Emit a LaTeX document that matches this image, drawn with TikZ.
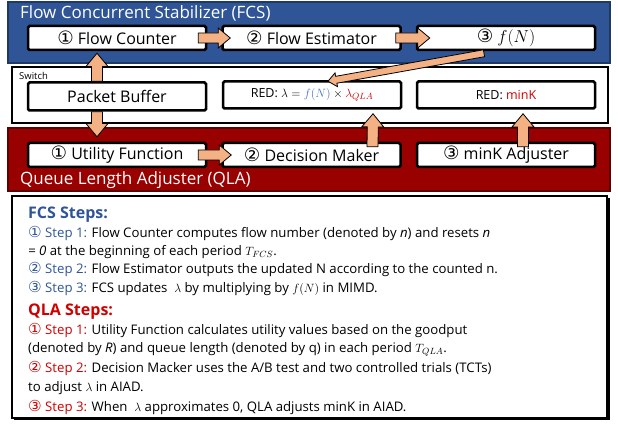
\documentclass[tikz,border=0pt]{standalone}
\usepackage{fontspec}
\setmainfont{Open Sans}
\newfontfamily\symfont[Scale=1.15]{DejaVu Sans}
\usetikzlibrary{calc}
\definecolor{fcsblue}{HTML}{2F5597}
\definecolor{fcsdark}{HTML}{203864}
\definecolor{fnblue}{HTML}{4472C4}
\definecolor{qlared}{HTML}{990000}
\definecolor{qladark}{HTML}{5C0000}
\definecolor{stepred}{HTML}{D00000}
\definecolor{arrowfill}{HTML}{F4B183}
\newcommand{\cn}[1]{{\symfont #1}}
% block arrow from #2 to #3, #1 = half width of the shaft
\newcommand{\flowarrow}[3][5pt]{%
  \coordinate (fa-s) at (#2); \coordinate (fa-t) at (#3);
  \coordinate (fa-h) at ($(fa-t)!2.4*#1!(fa-s)$);
  \draw[arrowbody] ($(fa-s)!#1!90:(fa-t)$) -- ($(fa-h)!#1!90:(fa-t)$) -- ($(fa-h)!2*#1!90:(fa-t)$) -- (fa-t)
    -- ($(fa-h)!2*#1!-90:(fa-t)$) -- ($(fa-h)!#1!-90:(fa-t)$) -- ($(fa-s)!#1!-90:(fa-t)$) -- cycle;}
\tikzset{
  box/.style={draw, line width=2.5pt, fill=white, rounded corners=1.5pt, minimum width=178pt,
    minimum height=24pt, inner sep=0pt, font=\fontsize{16}{18}\selectfont},
  redbox/.style={box, minimum height=27pt, font=\fontsize{12.5}{14}\selectfont},
  arrowbody/.style={draw=black, line width=0.8pt, fill=arrowfill, line join=miter},
  paneltitle/.style={anchor=base west, inner sep=0pt, text=white, font=\fontsize{17}{19}\selectfont}
}
\begin{document}
\begin{tikzpicture}[x=1pt, y=1pt]
  \useasboundingbox (0,0) rectangle (618,425);
  % panels
  \draw[fill=fcsblue, draw=fcsdark, line width=1.5pt] (8,362) rectangle (610,423);
  \draw[fill=white, line width=2.5pt] (12,302) rectangle (608,358);
  \draw[fill=qlared, draw=qladark, line width=1.5pt] (8,234) rectangle (610,297);
  \fill[black] (14,5) rectangle (610,227);
  \draw[fill=white, line width=2.5pt] (12,7) rectangle (607,229);
  \node[paneltitle] (fcs) at (20,406) {Flow Concurrent Stabilizer (FCS)};
  \node[paneltitle] (qla) at (20,240) {Queue Length Adjuster (QLA)};
  \node[anchor=base west, inner sep=0pt, font=\fontsize{9.5}{10}\selectfont] (sw) at (19,345) {Switch};
  % FCS row
  \node[box] (fc) at (117,387) {\cn{①} Flow Counter};
  \node[box] (fe) at (311.5,387) {\cn{②} Flow Estimator};
  \node[box] (fn) at (506,387) {\cn{③} $f(N)$};
  % switch row
  \node[box, minimum height=28pt] (pb) at (117,328.5) {Packet Buffer};
  \node[redbox] (rl) at (312,330) {RED: $\lambda = \textcolor{fnblue}{f(N)} \times \textcolor{stepred}{\lambda_{QLA}}$};
  \node[redbox] (rm) at (506,330) {RED: \textcolor{stepred}{minK}};
  % QLA row
  \node[box] (ut) at (117,270) {\cn{①} Utility Function};
  \node[box] (dm) at (311.5,270) {\cn{②} Decision Maker};
  \node[box] (mk) at (506,270) {\cn{③} minK Adjuster};
  % arrows
  \flowarrow{[xshift=-9pt]fc.east}{[xshift=9pt]fe.west}
  \flowarrow{[xshift=-6pt]fe.east}{[xshift=14pt]fn.west}
  \flowarrow{[xshift=-9pt]ut.east}{[xshift=10pt]dm.west}
  \flowarrow[5.5pt]{[xshift=-20pt]pb.north}{[xshift=-20pt, yshift=-2pt]fc.south}
  \flowarrow[5.5pt]{[xshift=-20pt]pb.south}{[xshift=-20pt, yshift=5pt]ut.north}
  \flowarrow[5.5pt]{[xshift=61pt, yshift=-5pt]dm.north}{[xshift=61pt, yshift=-4pt]rl.south}
  \flowarrow[5.5pt]{[xshift=17pt, yshift=-5pt]mk.north}{[xshift=17pt, yshift=-4pt]rm.south}
  \flowarrow[3.5pt]{[xshift=-22pt, yshift=-2pt]fn.south}{[xshift=16pt, yshift=-1pt]rl.north}
  % steps
  \node[anchor=north west, inner sep=0pt, align=left, font=\fontsize{13.2}{18.4}\selectfont] (steps) at (28,218) {%
    {\bfseries\color{fcsblue}\fontsize{16}{18}\selectfont FCS Steps:}\\
    \textcolor{fcsblue}{\cn{①} Step 1:} Flow Counter computes flow number (denoted by \textit{n}) and resets \textit{n}\\
    \textit{= 0} at the beginning of each period $T_{FCS}$.\\
    \textcolor{fcsblue}{\cn{②} Step 2:} Flow Estimator outputs the updated N according to the counted n.\\
    \textcolor{fcsblue}{\cn{③} Step 3:} FCS updates \ $\lambda$ by multiplying by $f(N)$ in MIMD.\\[5pt]
    {\bfseries\color{stepred}\fontsize{16}{18}\selectfont QLA Steps:}\\
    \textcolor{stepred}{\cn{①} Step 1:} Utility Function calculates utility values based on the goodput\\
    (denoted by \textit{R}) and queue length (denoted by $\mathrm{q}$) in each period $T_{QLA}$.\\[2pt]
    \textcolor{stepred}{\cn{②} Step 2:} Decision Macker uses the A/B test and two controlled trials (TCTs)\\
    to adjust $\lambda$ in AIAD.\\[2pt]
    \textcolor{stepred}{\cn{③} Step 3:} When \ $\lambda$ approximates 0, QLA adjusts minK in AIAD.};
\end{tikzpicture}
\end{document}
